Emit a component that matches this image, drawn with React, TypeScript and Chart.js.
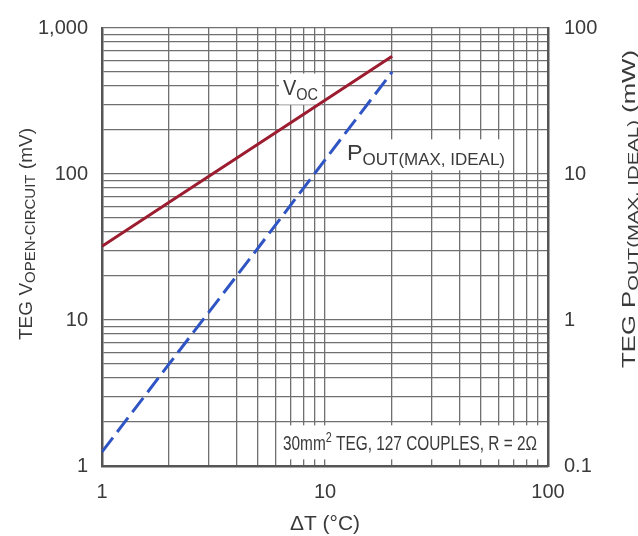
import React, { useEffect, useRef } from 'react';
import { Chart, registerables } from 'chart.js';

Chart.register(...registerables);

// Temperature difference across the TEG (°C)
const deltaT = [1, 2, 5, 10, 20];
// Open-circuit voltage (mV), left axis
const vocMilliVolts = [32, 64, 160, 320, 640];
// Maximum ideal output power (mW), right axis
const poutMilliWatts = [0.125, 0.5, 3.1, 12.5, 50];

// Log grid positions
const xGridValues = [1, 2, 3, 4, 5, 6, 7, 8, 9, 10, 20, 30, 40, 50, 60, 70, 80, 90, 100];
const yGridValues = [
  1, 2, 3, 4, 5, 6, 7, 8, 9, 10, 20, 30, 40, 50, 60, 70, 80, 90, 100,
  200, 300, 400, 500, 600, 700, 800, 900, 1000,
];
const y2GridValues = [0.1, 1, 10, 100];

// Tick labels
const xLabelValues = [1, 10, 100];
const xLabelText = ['1', '10', '100'];
const yLabelValues = [1, 10, 100, 1000];
const yLabelText = ['1', '10', '100', '1,000'];
const y2LabelValues = [0.1, 1, 10, 100];
const y2LabelText = ['0.1', '1', '10', '100'];

const FONT = '"Liberation Sans", Arial, Helvetica, sans-serif';
const TEXT = '#3a3a3a';

type Run = { text: string; size: number; dy: number };

function runsWidth(ctx: CanvasRenderingContext2D, runs: Run[]) {
  let w = 0;
  for (const r of runs) {
    ctx.font = `${r.size}px ${FONT}`;
    w += ctx.measureText(r.text).width;
  }
  return w;
}

// Draws a run of text pieces (for sub/superscripts), horizontally
// condensed so the whole run spans `width` pixels.
function drawRuns(
  ctx: CanvasRenderingContext2D,
  runs: Run[],
  x: number,
  y: number,
  width: number,
  align: 'left' | 'center',
  rotate = 0
) {
  ctx.save();
  ctx.translate(x, y);
  if (rotate) ctx.rotate(rotate);
  const total = runsWidth(ctx, runs);
  ctx.scale(width / total, 1);
  let cx = align === 'center' ? -total / 2 : 0;
  ctx.fillStyle = TEXT;
  ctx.textBaseline = 'alphabetic';
  ctx.textAlign = 'left';
  for (const r of runs) {
    ctx.font = `${r.size}px ${FONT}`;
    ctx.fillText(r.text, cx, r.dy);
    cx += ctx.measureText(r.text).width;
  }
  ctx.restore();
}

const vocLabel: Run[] = [
  { text: 'V', size: 22, dy: 0 },
  { text: 'OC', size: 16, dy: 5 },
];
const poutLabel: Run[] = [
  { text: 'P', size: 22, dy: 0 },
  { text: 'OUT(MAX, IDEAL)', size: 16, dy: 5 },
];
const noteLabel: Run[] = [
  { text: '30mm', size: 20, dy: 0 },
  { text: '2', size: 14, dy: -8 },
  { text: ' TEG, 127 COUPLES, R = 2Ω', size: 20, dy: 0 },
];
const leftTitle: Run[] = [
  { text: 'TEG V', size: 19, dy: 0 },
  { text: 'OPEN-CIRCUIT', size: 15, dy: 3 },
  { text: ' (mV)', size: 19, dy: 0 },
];
const rightTitle: Run[] = [
  { text: 'TEG P', size: 19, dy: 0 },
  { text: 'OUT(MAX, IDEAL)', size: 15, dy: 3 },
  { text: ' (mW)', size: 19, dy: 0 },
];
const xTitle: Run[] = [{ text: 'ΔT (°C)', size: 20, dy: 0 }];

const labelPlugin = {
  id: 'tegLabels',
  beforeDatasetsDraw(chart: any) {
    const ctx: CanvasRenderingContext2D = chart.ctx;
    const xs = chart.scales.x;
    const ys = chart.scales.y;
    const area = chart.chartArea;

    const boxed = (
      runs: Run[],
      atX: number,
      atY: number,
      width: number,
      pad: number,
      up: number,
      down: number,
      toRight = false
    ) => {
      const px = xs.getPixelForValue(atX);
      const py = ys.getPixelForValue(atY);
      ctx.save();
      ctx.fillStyle = '#ffffff';
      const left = px - pad;
      const right = toRight ? area.right - 1.5 : px + width + pad;
      ctx.fillRect(left, py - up, right - left, up + down);
      ctx.restore();
      drawRuns(ctx, runs, px, py, width, 'left');
    };

    boxed(vocLabel, 6.48, 350, 35, 4, 21, 10);
    boxed(poutLabel, 12.55, 124, 158, 4, 21, 10);
    boxed(noteLabel, 6.48, 1.28, 254, 5, 25, 9, true);
  },
  afterDraw(chart: any) {
    const ctx: CanvasRenderingContext2D = chart.ctx;
    drawRuns(ctx, leftTitle, 32, 234, 212, 'center', -Math.PI / 2);
    drawRuns(ctx, rightTitle, 635, 368, 318, 'left', -Math.PI / 2);
    const midX = chart.scales.x.getPixelForValue(10);
    drawRuns(ctx, xTitle, midX, 530, 70, 'center');
  },
};

const pick = (values: number[], texts: string[]) => (v: any) => {
  const i = values.findIndex((x) => Math.abs(x - Number(v)) < 1e-9);
  return i >= 0 ? texts[i] : '';
};

export default function App() {
  const canvasRef = useRef<HTMLCanvasElement | null>(null);

  useEffect(() => {
    document.body.style.margin = '0';
    const canvas = canvasRef.current;
    if (!canvas) return;
    const grid = { color: '#707070', lineWidth: 1.3, drawTicks: false };
    const border = { color: '#555555', width: 2.5 };
    const tickFont = { family: FONT, size: 20 };

    const chart = new Chart(canvas, {
      type: 'line',
      data: {
        datasets: [
          {
            label: 'VOC',
            data: deltaT.map((t, i) => ({ x: t, y: vocMilliVolts[i] })),
            yAxisID: 'y',
            borderColor: '#9c1c30',
            borderWidth: 3,
            pointRadius: 0,
            tension: 0,
          },
          {
            label: 'POUT(MAX, IDEAL)',
            data: deltaT.map((t, i) => ({ x: t, y: poutMilliWatts[i] })),
            yAxisID: 'y2',
            borderColor: '#2f55c4',
            borderWidth: 3,
            borderDash: [18, 7],
            pointRadius: 0,
            tension: 0,
          },
        ],
      },
      options: {
        animation: false,
        responsive: true,
        maintainAspectRatio: false,
        layout: { padding: { top: 22, left: 0, right: 0, bottom: 0 } },
        plugins: { legend: { display: false }, tooltip: { enabled: false } },
        scales: {
          x: {
            type: 'logarithmic',
            min: 1,
            max: 100,
            grid,
            border,
            afterBuildTicks: (s: any) => {
              s.ticks = xGridValues.map((value) => ({ value }));
            },
            afterFit: (s: any) => {
              s.height = 70;
            },
            ticks: {
              autoSkip: false,
              maxRotation: 0,
              padding: 14,
              color: TEXT,
              font: tickFont,
              callback: pick(xLabelValues, xLabelText),
            },
          },
          y: {
            type: 'logarithmic',
            position: 'left',
            min: 1,
            max: 1000,
            grid,
            border,
            afterBuildTicks: (s: any) => {
              s.ticks = yGridValues.map((value) => ({ value }));
            },
            afterFit: (s: any) => {
              s.width = 102;
            },
            ticks: {
              autoSkip: false,
              padding: 14,
              color: TEXT,
              font: tickFont,
              callback: pick(yLabelValues, yLabelText),
            },
          },
          y2: {
            type: 'logarithmic',
            position: 'right',
            min: 0.1,
            max: 100,
            grid: { display: false, drawTicks: false },
            border,
            afterBuildTicks: (s: any) => {
              s.ticks = y2GridValues.map((value) => ({ value }));
            },
            afterFit: (s: any) => {
              s.width = 90;
            },
            ticks: {
              autoSkip: false,
              padding: 16,
              color: TEXT,
              font: tickFont,
              callback: pick(y2LabelValues, y2LabelText),
            },
          },
        },
      },
      plugins: [labelPlugin],
    } as any);

    return () => chart.destroy();
  }, []);

  return (
    <div style={{ position: 'relative', width: 638, height: 536, background: '#fff' }}>
      <canvas ref={canvasRef} />
    </div>
  );
}
